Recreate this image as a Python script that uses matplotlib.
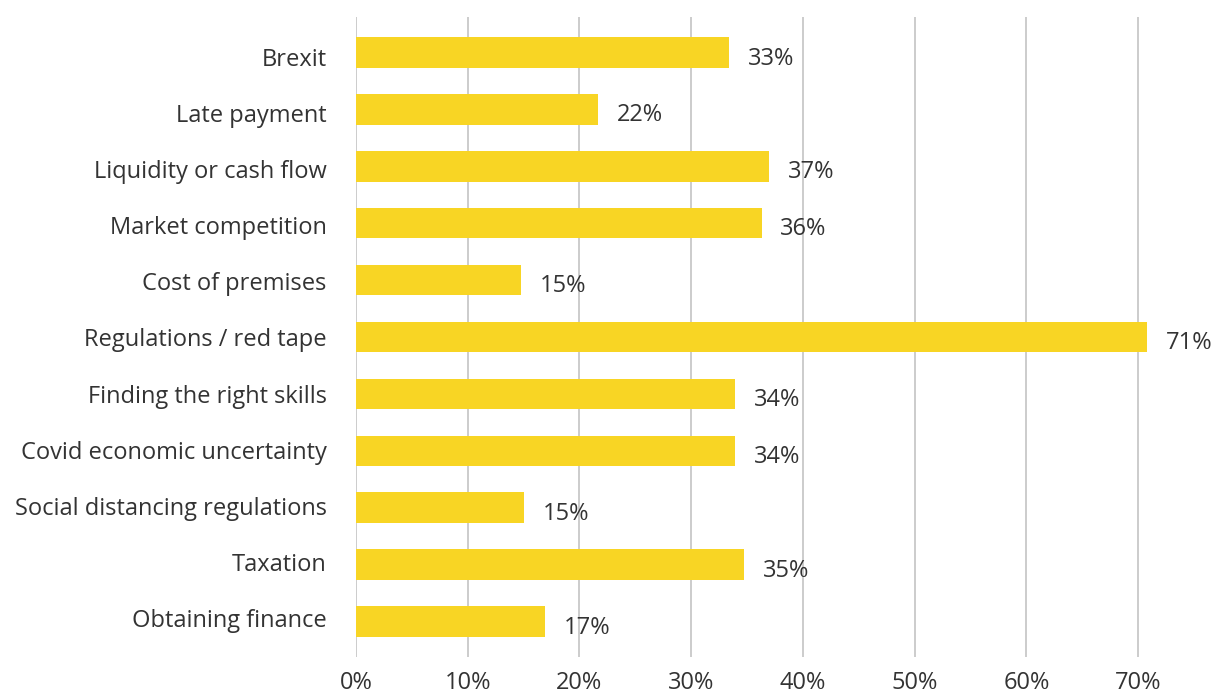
import matplotlib
matplotlib.use("Agg")
import matplotlib.pyplot as plt
import matplotlib.transforms as mtransforms

# survey categories, top to bottom
categories = [
    "Brexit",
    "Late payment",
    "Liquidity or cash flow",
    "Market competition",
    "Cost of premises",
    "Regulations / red tape",
    "Finding the right skills",
    "Covid economic uncertainty",
    "Social distancing regulations",
    "Taxation",
    "Obtaining finance",
]
values = [33.4, 21.7, 37.0, 36.3, 14.8, 70.8, 33.9, 33.9, 15.0, 34.7, 16.9]
labels = ["33%", "22%", "37%", "36%", "15%", "71%", "34%", "34%", "15%", "35%", "17%"]
xticks = [0, 10, 20, 30, 40, 50, 60, 70]

plt.rcParams['font.family'] = ['Open Sans', 'DejaVu Sans']
txt = '#333333'
fs = 17

fig = plt.figure(figsize=(12.12, 6.93), dpi=100)
ax = fig.add_axes([356 / 1212, 36 / 693, 1 - 356 / 1212, 640 / 693])

pos = list(range(len(categories)))
ax.barh(pos, values, height=0.54, color='#F8D524', zorder=2)

for y, v, lab in zip(pos, values, labels):
    ax.annotate(lab, (v, y), xytext=(13.5, -4.5), textcoords='offset points',
                va='center', ha='left', fontsize=fs, color=txt)

ax.set_xlim(0, 76.6)
ax.set_ylim(10.62, -0.62)
ax.set_yticks(pos)
ax.set_yticklabels(categories, fontsize=fs, color=txt)
ax.set_xticks(xticks)
ax.set_xticklabels([f"{t}%" for t in xticks], fontsize=fs, color=txt)
ax.tick_params(axis='both', length=0)
ax.tick_params(axis='y', pad=21)
ax.tick_params(axis='x', pad=10)

# category labels drift from a bit low at the top to a bit high at the bottom
for i, t in enumerate(ax.get_yticklabels()):
    off = mtransforms.ScaledTranslation(0, -(4.5 - 0.8 * i) * 0.72 / 72, fig.dpi_scale_trans)
    t.set_transform(t.get_transform() + off)

ax.grid(axis='x', color='#c8c8c8', linewidth=1.3, zorder=0)
ax.set_axisbelow(True)
for s in ax.spines.values():
    s.set_visible(False)

fig.savefig('out.png', dpi=100)
